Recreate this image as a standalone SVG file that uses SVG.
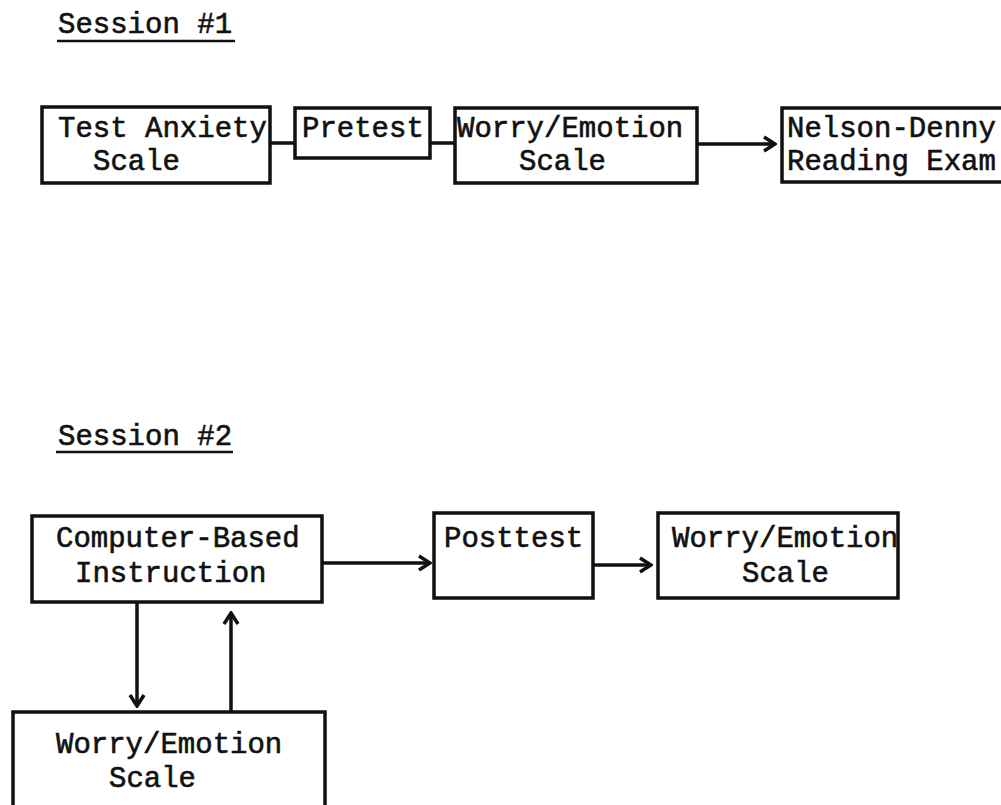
<svg xmlns="http://www.w3.org/2000/svg" width="1001" height="805" viewBox="0 0 1001 805">
  <defs>
    <marker id="arrow" viewBox="0 0 16 18" refX="14" refY="9" markerWidth="16" markerHeight="18" markerUnits="userSpaceOnUse" orient="auto">
      <path d="M3,2 L14,9 L3,16" fill="none" stroke="#111" stroke-width="3.5" stroke-linejoin="miter"/>
    </marker>
  </defs>
  <style>
    .box { fill: #fff; stroke: #111; stroke-width: 3.5; }
    .lbl { font-family: "Liberation Mono", "Courier New", monospace; font-size: 29px; fill: #111; stroke: #111; stroke-width: 0.6; }
    .head { font-family: "Liberation Mono", "Courier New", monospace; font-size: 29px; fill: #111; stroke: #111; stroke-width: 0.6; }
    .rule { stroke: #111; stroke-width: 2.5; }
    .conn { stroke: #111; stroke-width: 3.5; fill: none; }
  </style>
  <rect width="1001" height="805" fill="#fff"/>

  <!-- Session 1 heading -->
  <g id="session1-title">
    <text class="head" x="58" y="33">Session #1</text>
    <line class="rule" x1="57" y1="41" x2="235" y2="41"/>
  </g>

  <g id="s1-test-anxiety">
    <rect class="box" x="42" y="107" width="228" height="76"/>
    <text class="lbl" x="58" y="137">Test Anxiety</text>
    <text class="lbl" x="93" y="170">Scale</text>
  </g>
  <g id="s1-pretest">
    <rect class="box" x="295" y="108" width="135" height="50"/>
    <text class="lbl" x="302" y="137">Pretest</text>
  </g>
  <g id="s1-worry">
    <rect class="box" x="455" y="108" width="242" height="75"/>
    <text class="lbl" x="457" y="137">Worry/Emotion</text>
    <text class="lbl" x="519" y="170">Scale</text>
  </g>
  <g id="s1-nelson-denny">
    <rect class="box" x="782" y="108" width="240" height="74"/>
    <text class="lbl" x="787" y="137">Nelson-Denny</text>
    <text class="lbl" x="787" y="170">Reading Exam</text>
  </g>

  <!-- Session 2 heading -->
  <g id="session2-title">
    <text class="head" x="58" y="445">Session #2</text>
    <line class="rule" x1="56" y1="452" x2="233" y2="452"/>
  </g>

  <g id="s2-cbi">
    <rect class="box" x="32" y="516" width="290" height="86"/>
    <text class="lbl" x="56" y="547">Computer-Based</text>
    <text class="lbl" x="75" y="582">Instruction</text>
  </g>
  <g id="s2-posttest">
    <rect class="box" x="434" y="513" width="159" height="85"/>
    <text class="lbl" x="444" y="547">Posttest</text>
  </g>
  <g id="s2-worry-right">
    <rect class="box" x="658" y="513" width="240" height="85"/>
    <text class="lbl" x="672" y="547">Worry/Emotion</text>
    <text class="lbl" x="742" y="582">Scale</text>
  </g>
  <g id="s2-worry-bottom">
    <rect class="box" x="13" y="712" width="312" height="110"/>
    <text class="lbl" x="56" y="753">Worry/Emotion</text>
    <text class="lbl" x="109" y="787">Scale</text>
  </g>

  <g id="connectors">
    <line class="conn" x1="270" y1="143" x2="295" y2="143"/>
    <line class="conn" x1="430" y1="143" x2="455" y2="143"/>
    <line class="conn" x1="697" y1="144" x2="775" y2="144" marker-end="url(#arrow)"/>
    <line class="conn" x1="322" y1="563" x2="430" y2="563" marker-end="url(#arrow)"/>
    <line class="conn" x1="593" y1="565" x2="651" y2="565" marker-end="url(#arrow)"/>
    <line class="conn" x1="137" y1="602" x2="137" y2="706" marker-end="url(#arrow)"/>
    <line class="conn" x1="231" y1="712" x2="231" y2="613" marker-end="url(#arrow)"/>
  </g>
</svg>
